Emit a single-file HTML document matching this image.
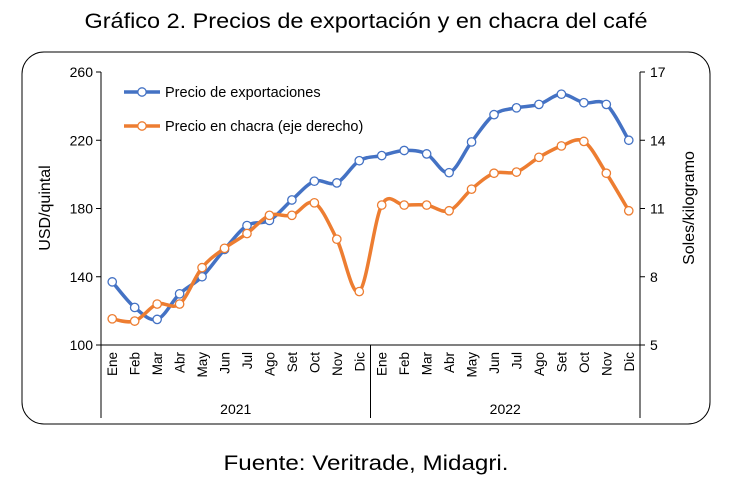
<!DOCTYPE html>
<html><head><meta charset="utf-8"><style>
body{margin:0;background:#fff;}
svg{display:block;font-family:"Liberation Sans",sans-serif;}
</style></head><body>
<svg id="chart" width="733" height="489" viewBox="0 0 733 489">
<text x="366" y="28" text-anchor="middle" font-size="21" textLength="563" lengthAdjust="spacingAndGlyphs" fill="#000">Gráfico 2. Precios de exportación y en chacra del café</text>
<rect x="22" y="52" width="688" height="372" rx="22" fill="none" stroke="#000" stroke-width="1"/>
<g id="plot"></g>
<text x="366" y="470" text-anchor="middle" font-size="21" textLength="285" lengthAdjust="spacingAndGlyphs" fill="#000">Fuente: Veritrade, Midagri.</text>
</svg>
<script>
const months = ["Ene","Feb","Mar","Abr","May","Jun","Jul","Ago","Set","Oct","Nov","Dic","Ene","Feb","Mar","Abr","May","Jun","Jul","Ago","Set","Oct","Nov","Dic"];
const years = ["2021","2022"];
const exportPrices = [137,122,115,130,140,156,170,173,185,196,195,208,211,214,212,201,219,235,239,241,247,242,241,220];
const farmPrices = [6.15,6.05,6.8,6.8,8.4,9.25,9.9,10.7,10.7,11.25,9.65,7.35,11.15,11.15,11.15,10.9,11.85,12.55,12.6,13.25,13.75,13.95,12.55,10.9];
const leftTicks = [100,140,180,220,260];
const rightTicks = [5,8,11,14,17];
const X0=101,X1=640,Y0=72,Y1=345;
const NS="http://www.w3.org/2000/svg";
const g=document.getElementById('plot');
const bw=(X1-X0)/months.length;
const xs=i=>X0+bw*(i+0.5);
const yl=v=>Y1-(v-100)/160*(Y1-Y0);
const yr=v=>Y1-(v-5)/12*(Y1-Y0);
function mk(t,a,p){const e=document.createElementNS(NS,t);for(const k in a)e.setAttribute(k,a[k]);(p||g).appendChild(e);return e;}
let e=mk('line',{x1:X0,y1:Y0,x2:X0,y2:418,stroke:'#000'});


e=mk('line',{x1:X1,y1:Y0,x2:X1,y2:418,stroke:'#000'});


e=mk('line',{x1:X0,y1:Y1,x2:X1,y2:Y1,stroke:'#000'});


e=mk('line',{x1:X0+bw*12,y1:Y1,x2:X0+bw*12,y2:418,stroke:'#000'});


leftTicks.forEach(v=>{
 mk('line',{x1:X0-5,y1:yl(v),x2:X0,y2:yl(v),stroke:'#000'});
 const t=mk('text',{x:X0-8,y:yl(v)+5,'text-anchor':'end','font-size':14});t.textContent=v;
 
 
});
rightTicks.forEach(v=>{
 mk('line',{x1:X1,y1:yr(v),x2:X1+5,y2:yr(v),stroke:'#000'});
 const t=mk('text',{x:X1+10,y:yr(v)+5,'font-size':14});t.textContent=v;
 
 
});
months.forEach((m,i)=>{
 const t=mk('text',{transform:`translate(${xs(i)+5},352) rotate(-90)`,'text-anchor':'end','font-size':13.5});t.textContent=m;
 
 
});
years.forEach((y,i)=>{
 const t=mk('text',{x:X0+bw*(6+12*i),y:414,'text-anchor':'middle','font-size':14});t.textContent=y;
 
 
});
let t=mk('text',{transform:'translate(50,208) rotate(-90)','text-anchor':'middle','font-size':16});t.textContent='USD/quintal';


t=mk('text',{transform:'translate(694,208) rotate(-90)','text-anchor':'middle','font-size':16});t.textContent='Soles/kilogramo';


function smooth(p){let d=`M${p[0][0]},${p[0][1]}`;for(let i=0;i<p.length-1;i++){const a=p[i-1]||p[i],b=p[i],c=p[i+1],n=p[i+2]||c;
 d+=` C${b[0]+(c[0]-a[0])/6},${b[1]+(c[1]-a[1])/6} ${c[0]-(n[0]-b[0])/6},${c[1]-(n[1]-b[1])/6} ${c[0]},${c[1]}`;}return d;}
function series(vals,yf,col,name){
 const p=vals.map((v,i)=>[xs(i),yf(v)]);
 const l=mk('path',{d:smooth(p),fill:'none',stroke:col,'stroke-width':3.5});
 
 
 p.forEach(q=>{const c=mk('circle',{cx:q[0],cy:q[1],r:4.2,fill:'#fff',stroke:col,'stroke-width':1.3});
 
 });
}
series(exportPrices,yl,'#4472c4','export-price');
series(farmPrices,yr,'#ed7d31','farm-price');
[['Precio de exportaciones','#4472c4',92],['Precio en chacra (eje derecho)','#ed7d31',126]].forEach((L,i)=>{
 const lg=mk('g',{});
 
 
 mk('line',{x1:124,y1:L[2],x2:160,y2:L[2],stroke:L[1],'stroke-width':3.5},lg);
 mk('circle',{cx:142,cy:L[2],r:4.2,fill:'#fff',stroke:L[1],'stroke-width':1.3},lg);
 const tt=mk('text',{x:165,y:L[2]+5,'font-size':14.5},lg);tt.textContent=L[0];
});
</script>
</body></html>
